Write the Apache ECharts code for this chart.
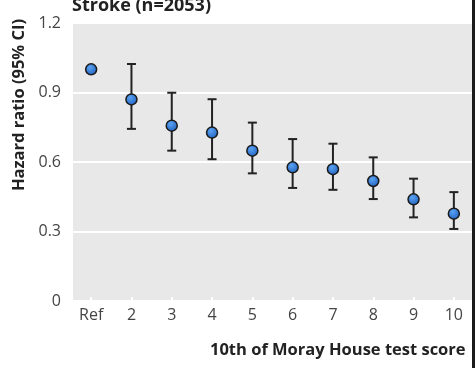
<!DOCTYPE html>
<html><head><meta charset="utf-8">
<script src="https://cdn.jsdelivr.net/npm/echarts@6/dist/echarts.min.js"></script>
<style>html,body{margin:0;padding:0;background:#fff}#c{width:475px;height:368px}</style>
</head><body><div id="c"></div>
<script>
const categories = ['Ref','2','3','4','5','6','7','8','9','10'];
const hr    = [1.00, 0.87, 0.757, 0.727, 0.649, 0.577, 0.569, 0.518, 0.439, 0.377];
const lower = [null, 0.743, 0.649, 0.612, 0.551, 0.488, 0.48, 0.44, 0.361, 0.311];
const upper = [null, 1.023, 0.899, 0.871, 0.77, 0.699, 0.679, 0.62, 0.528, 0.47];
const yTicks = [0, 0.3, 0.6, 0.9, 1.2];
const titleText = 'Stroke (n=2053)';
const yTitle = 'Hazard ratio (95% CI)';
const xTitle = '10th of Moray House test score';

const FONT = '"Open Sans", sans-serif';
const chart = echarts.init(document.getElementById('c'));
const errData = categories.map((c,i)=> lower[i]==null ? null : [i, lower[i], upper[i]]).filter(d=>d);
const ptData = categories.map((c,i)=>[i, hr[i]]);

chart.setOption({
  animation:false,
  grid:{left:71, width:403, top:23, bottom:67, show:true, backgroundColor:'#e8e8e8', borderWidth:0},
  xAxis:{type:'category', data:categories, boundaryGap:true,
    axisLine:{show:false}, splitLine:{show:false},
    axisTick:{show:true, inside:true, alignWithLabel:true, length:4, lineStyle:{color:'#ffffff', width:2}},
    axisLabel:{color:'#444', fontSize:16, fontFamily:FONT, margin:6, interval:0}
  },
  yAxis:{type:'value', min:0, max:1.2, interval:0.3,
    axisLine:{show:false}, axisTick:{show:false},
    splitLine:{show:true, lineStyle:{color:'#ffffff', width:2}},
    axisLabel:{color:'#444', fontSize:16, fontFamily:FONT, margin:10,
      formatter:v=>{const t=yTicks.find(x=>Math.abs(x-v)<1e-6); return t===0?'0':t.toFixed(1);}}
  },
  series:[
    {type:'custom', data:errData, z:2,
     renderItem:(params, api)=>{
       const x=api.value(0);
       const lo=api.coord([x, api.value(1)]);
       const hi=api.coord([x, api.value(2)]);
       const w=4.5;
       const st={stroke:'#222', lineWidth:2, fill:null};
       return {type:'group', children:[
         {type:'line', shape:{x1:lo[0],y1:lo[1],x2:hi[0],y2:hi[1]}, style:st},
         {type:'line', shape:{x1:lo[0]-w,y1:lo[1],x2:lo[0]+w,y2:lo[1]}, style:st},
         {type:'line', shape:{x1:hi[0]-w,y1:hi[1],x2:hi[0]+w,y2:hi[1]}, style:st}
       ]};
     }},
    {type:'scatter', data:ptData, z:3, symbol:'circle', symbolSize:11,
     itemStyle:{color:new echarts.graphic.RadialGradient(0.4,0.35,0.7,[{offset:0,color:'#5aa2f0'},{offset:1,color:'#1e5fc0'}]), borderColor:'#1a1a1a', borderWidth:1.5, opacity:1}}
  ],
  graphic:[
    {type:'rect', shape:{x:71, y:23, width:2, height:279}, style:{fill:'#ffffff'}, z:50},
    {type:'text', x:72, y:15, style:{text:titleText, font:'bold 18px '+FONT, fill:'#222', align:'left', verticalAlign:'bottom'}},
    {type:'text', x:19, y:105, rotation:Math.PI/2, style:{text:yTitle, font:'bold 16.5px '+FONT, fill:'#222', align:'center', verticalAlign:'middle'}},
    {type:'text', x:210, y:350, style:{text:xTitle, font:'bold 16.5px '+FONT, fill:'#222', align:'left', verticalAlign:'middle'}},
    {type:'rect', shape:{x:472, y:0, width:3, height:368}, style:{fill:'#1a1a1a'}, z:100}
  ]
});
</script></body></html>
